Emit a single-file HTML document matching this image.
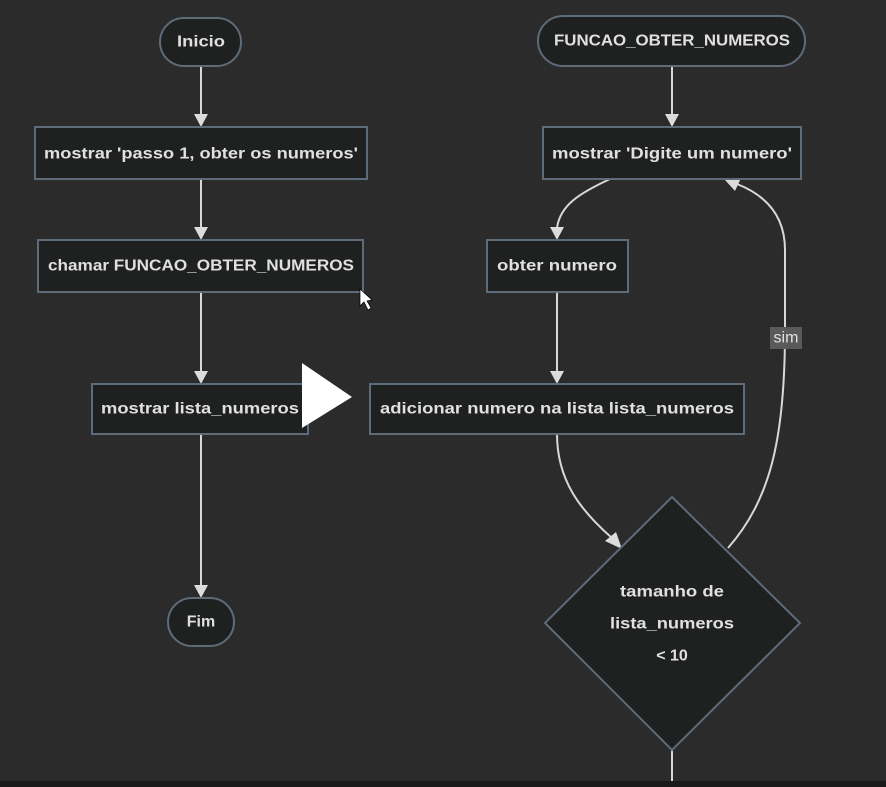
<!DOCTYPE html>
<html><head><meta charset="utf-8"><style>
html,body{margin:0;padding:0;background:#2b2b2b;}
svg{display:block}
text{font-family:"Liberation Sans",sans-serif;font-size:16px;font-weight:bold;fill:#e0e0e0;text-anchor:middle;dominant-baseline:central;}
.n{fill:#1f2020;stroke:#5e6b78;stroke-width:2}
.e{fill:none;stroke:#d8d8d8;stroke-width:2}
.a{fill:#dcdcdc}
</style></head><body>
<svg width="886" height="787" viewBox="0 0 886 787">
<rect width="886" height="787" fill="#2b2b2b"/>
<line class="e" x1="201" y1="66" x2="201" y2="115"/>
<polygon class="a" points="194,114 208,114 201,127"/>
<line class="e" x1="201" y1="179" x2="201" y2="228"/>
<polygon class="a" points="194,227 208,227 201,240"/>
<line class="e" x1="201" y1="292" x2="201" y2="372"/>
<polygon class="a" points="194,371 208,371 201,384"/>
<line class="e" x1="201" y1="434" x2="201" y2="586"/>
<polygon class="a" points="194,585 208,585 201,598"/>
<line class="e" x1="672" y1="66" x2="672" y2="115"/>
<polygon class="a" points="665,114 679,114 672,127"/>
<path class="e" d="M610,179 C580,193 560,205 557,228"/>
<polygon class="a" points="550,227 564,227 557,240"/>
<line class="e" x1="557" y1="292" x2="557" y2="372"/>
<polygon class="a" points="550,371 564,371 557,384"/>
<path class="e" d="M557,434 C557,480 580,510 612,538"/>
<polygon class="a" points="605,541 616,532 622,549"/>
<path class="e" d="M728,548 C770,500 785,440 785,330 L785,250 C785,215 765,195 737,184"/>
<polygon class="a" points="725,180 741,178 735,191"/>
<rect x="770" y="327" width="32" height="22" fill="#5a5a5a"/>
<text x="786" y="338" style="font-weight:normal">sim</text>
<line class="e" x1="672" y1="750" x2="672" y2="787"/>
<rect class="n" x="160" y="18" width="81" height="48" rx="24"/>
<text x="201" y="42" textLength="48" lengthAdjust="spacingAndGlyphs">Inicio</text>
<rect class="n" x="35" y="127" width="332" height="52"/>
<text x="201" y="154" textLength="314" lengthAdjust="spacingAndGlyphs">mostrar 'passo 1, obter os numeros'</text>
<rect class="n" x="38" y="240" width="325" height="52"/>
<text x="201" y="266" textLength="306" lengthAdjust="spacingAndGlyphs">chamar FUNCAO_OBTER_NUMEROS</text>
<rect class="n" x="92" y="384" width="216" height="50"/>
<text x="200" y="409" textLength="198" lengthAdjust="spacingAndGlyphs">mostrar lista_numeros</text>
<rect class="n" x="168" y="598" width="66" height="48" rx="24"/>
<text x="201" y="622">Fim</text>
<rect class="n" x="538" y="16" width="267" height="50" rx="25"/>
<text x="672" y="41" textLength="236" lengthAdjust="spacingAndGlyphs">FUNCAO_OBTER_NUMEROS</text>
<rect class="n" x="543" y="127" width="258" height="52"/>
<text x="672" y="154" textLength="240" lengthAdjust="spacingAndGlyphs">mostrar 'Digite um numero'</text>
<rect class="n" x="487" y="240" width="141" height="52"/>
<text x="557" y="266" textLength="120" lengthAdjust="spacingAndGlyphs">obter numero</text>
<rect class="n" x="370" y="384" width="374" height="50"/>
<text x="557" y="409" textLength="354" lengthAdjust="spacingAndGlyphs">adicionar numero na lista lista_numeros</text>
<polygon class="n" points="672,497 800,623 672,750 545,623"/>
<text x="672" y="592" textLength="104" lengthAdjust="spacingAndGlyphs">tamanho de</text>
<text x="672" y="624" textLength="124" lengthAdjust="spacingAndGlyphs">lista_numeros</text>
<text x="672" y="656">&lt; 10</text>
<polygon points="302,363 352,397 302,428" fill="#ffffff"/>
<polygon points="360,289 360,306 364,302 368,310 371,308 367,301 372,300" fill="#ffffff" stroke="#000" stroke-width="0.7"/>
<rect x="0" y="781" width="886" height="6" fill="#1a1a1a"/>
</svg>
</body></html>
